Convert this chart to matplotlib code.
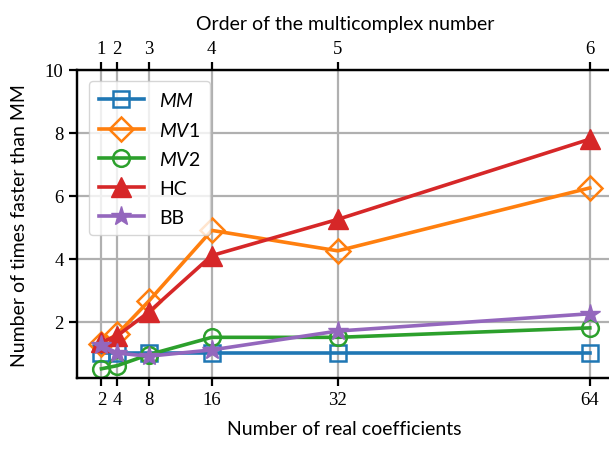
import numpy as np
import matplotlib.pyplot as plt

plt.rcParams['font.family'] = ['Liberation Serif', 'DejaVu Serif']
plt.rcParams['mathtext.fontset'] = 'custom'
plt.rcParams['mathtext.it'] = 'Lato:italic'
plt.rcParams['mathtext.rm'] = 'Lato'
sans = ['Lato', 'DejaVu Sans']

# data
n_coeffs = [2, 4, 8, 16, 32, 64]
orders = ['1', '2', '3', '4', '5', '6']
mm = [1.0, 1.0, 1.0, 1.0, 1.0, 1.0]
mv1 = [1.3, 1.6, 2.65, 4.9, 4.25, 6.25]
mv2 = [0.5, 0.6, 0.95, 1.5, 1.5, 1.8]
hc = [1.35, 1.55, 2.3, 4.1, 5.25, 7.8]
bb = [1.25, 1.0, 0.9, 1.1, 1.7, 2.25]

fig = plt.figure(figsize=(6.09, 4.52), dpi=100)
ax = fig.add_axes([0.126, 0.161, 0.88, 0.682])

lw = 2.6
ms = 12
ax.plot(n_coeffs, mm, '-s', color='C0', lw=lw, ms=ms, mfc='none', mew=1.8, label='$MM$')
ax.plot(n_coeffs, mv1, '-D', color='C1', lw=lw, ms=ms, mfc='none', mew=1.8, label='$MV1$')
ax.plot(n_coeffs, mv2, '-o', color='C2', lw=lw, ms=ms, mfc='none', mew=1.8, label='$MV2$')
ax.plot(n_coeffs, hc, '-^', color='C3', lw=lw, ms=ms + 2, label='HC')
ax.plot(n_coeffs, bb, '-*', color='C4', lw=lw, ms=ms + 3, label='BB')

ax.set_xlim(-1.14, 66.9)
ax.set_ylim(0.2, 10)
ax.set_xticks(n_coeffs)
ax.set_yticks([2, 4, 6, 8, 10])
ax.grid(True, color='#b0b0b0', lw=1.6)
ax.tick_params(labelsize=13.5, width=1.6, length=6)
for s in ax.spines.values():
    s.set_linewidth(1.6)
ax.set_xlabel('Number of real coefficients', fontsize=14, labelpad=8, family=sans)
ax.set_ylabel('Number of times faster than MM', fontsize=14, labelpad=12, family=sans)

top = ax.twiny()
top.set_xlim(ax.get_xlim())
top.set_xticks(n_coeffs)
top.set_xticklabels(orders)
top.tick_params(labelsize=13.5, width=1.6, length=6)
for s in top.spines.values():
    s.set_linewidth(1.6)
top.set_xlabel('Order of the multicomplex number', fontsize=14, labelpad=8, family=sans)

ax.legend(loc='upper left', prop={'family': sans, 'size': 14}, handlelength=2.3,
          borderpad=0.5, labelspacing=0.6, framealpha=0.8,
          bbox_to_anchor=(0.005, 0.995))

fig.savefig('out.png', dpi=100)
